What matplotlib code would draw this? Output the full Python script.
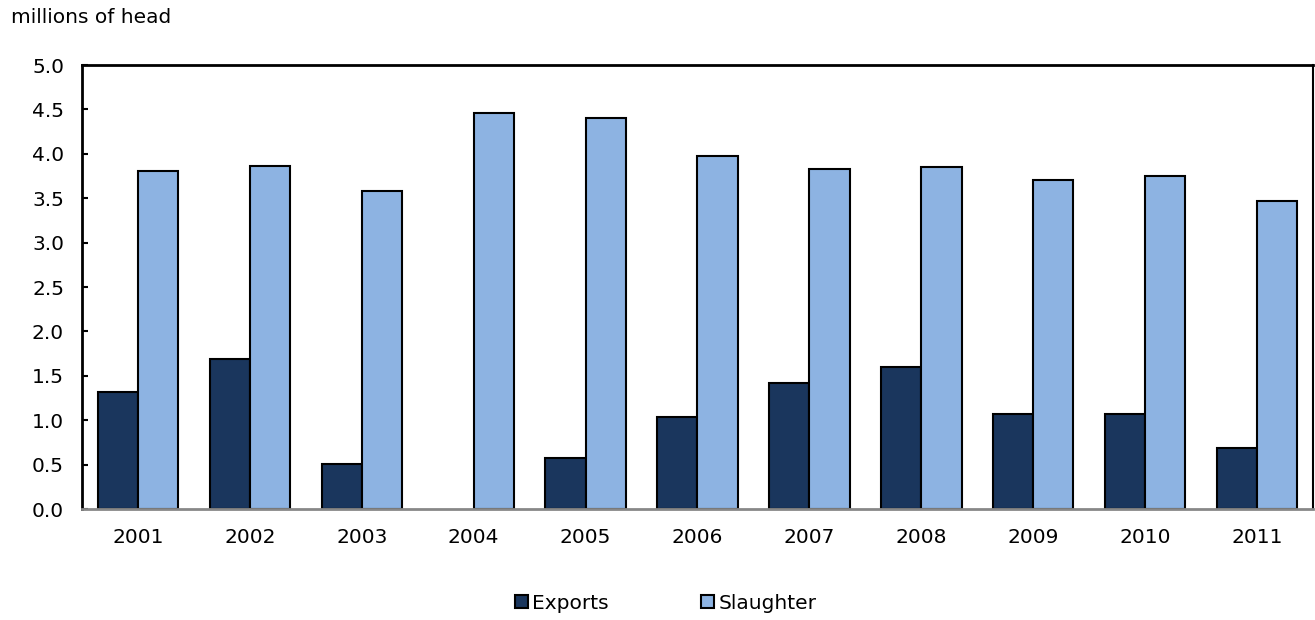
import matplotlib.pyplot as plt
import numpy as np

years = ["2001", "2002", "2003", "2004", "2005", "2006",
         "2007", "2008", "2009", "2010", "2011"]
exports = [1.32, 1.69, 0.51, 0.0, 0.57, 1.04, 1.42, 1.60, 1.07, 1.07, 0.69]
slaughter = [3.81, 3.86, 3.58, 4.46, 4.40, 3.98, 3.83, 3.85, 3.71, 3.75, 3.47]

export_color = "#1a365d"
slaughter_color = "#8db3e2"

plt.rcParams["font.family"] = ["Verdana", "DejaVu Sans"]

fig = plt.figure(figsize=(13.15, 6.2), dpi=100)
ax = fig.add_axes([0.0624, 0.179, 0.936, 0.716])

x = np.arange(len(years))
width = 0.36
# no outline on empty bars (2004 exports)
export_lw = [1.5 if v > 0 else 0 for v in exports]
ax.bar(x - width, exports, width, align="edge", color=export_color,
       edgecolor="black", linewidth=export_lw, label="Exports")
ax.bar(x, slaughter, width, align="edge", color=slaughter_color,
       edgecolor="black", linewidth=1.5, label="Slaughter")

ax.set_xlim(-0.5, len(years) - 0.5)
ax.set_ylim(0, 5.0)
ax.set_yticks(np.arange(0, 5.01, 0.5))
ax.set_yticklabels([f"{v:.1f}" for v in np.arange(0, 5.01, 0.5)])
ax.set_xticks(x)
ax.set_xticklabels(years)

ax.tick_params(axis="y", direction="in", length=4, width=1.5, pad=13,
               labelsize=14.5, colors="black")
ax.tick_params(axis="x", length=0, pad=14, labelsize=14.5)

for side in ["left", "top"]:
    ax.spines[side].set_linewidth(2)
    ax.spines[side].set_color("black")
ax.spines["right"].set_linewidth(1.5)
ax.spines["right"].set_color("black")
ax.spines["bottom"].set_linewidth(2)
ax.spines["bottom"].set_color("#888888")
ax.spines["bottom"].set_zorder(3)

fig.text(0.008, 0.972, "millions of head", fontsize=14.5, va="center", ha="left")

leg = fig.legend(loc="center", bbox_to_anchor=(0.506, 0.027), ncol=2, frameon=False,
                 fontsize=14.5, handlelength=0.65, handleheight=0.65,
                 handletextpad=0.2, columnspacing=4.6)
for h in leg.legend_handles:
    h.set_linewidth(1.5)

fig.savefig("out.png", dpi=100)
